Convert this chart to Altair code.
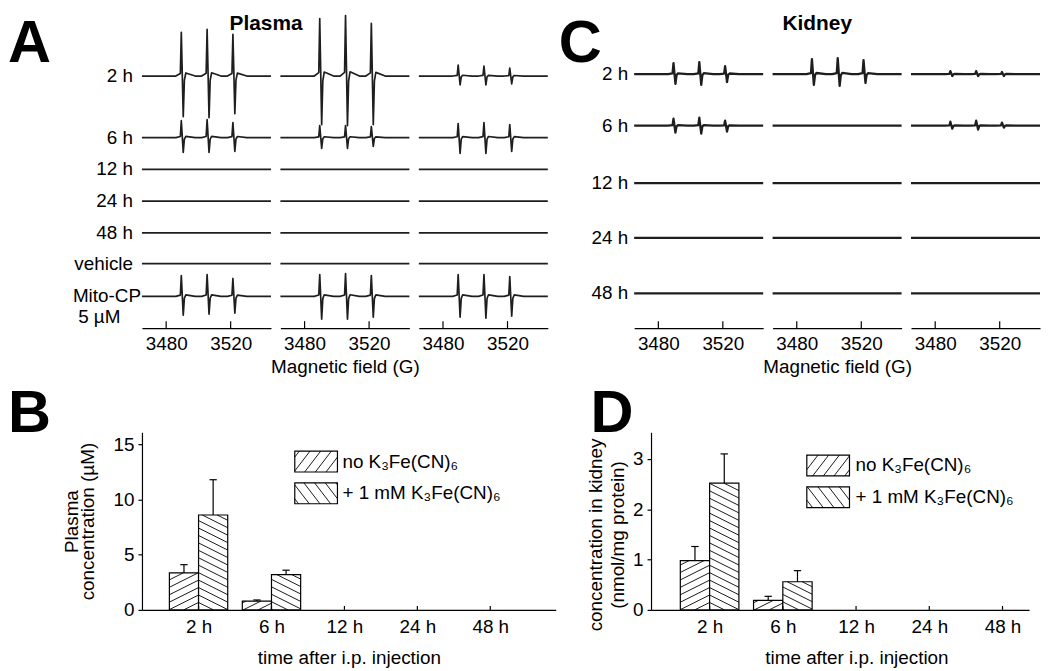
import math
import altair as alt
import pandas as pd

# ---------------- data ----------------
FIELD_TICKS = [3480, 3520]
FIELD_RANGE = [3465, 3545]
PEAK_FIELDS = [3490, 3506, 3522]
# derivative line shape of one EPR line (field offset in G, relative up / down part)
LINE_DX = [-4.0, -1.2, -0.6, 0.6, 1.3, 2.2, 8.0]
LINE_UP_SHAPE = [0.0, 0.06, 1.0, 0.0, 0.0, 0.07, 0.0]
LINE_DOWN_SHAPE = [0.0, 0.0, 0.0, 1.0, 0.1, 0.0, 0.0]

PLASMA_ROWS = ["2 h", "6 h", "12 h", "24 h", "48 h", "vehicle", "Mito-CP"]
Z3 = [0, 0, 0]
PLASMA_UP = [
    [[44, 47, 42], [17, 18, 15], Z3, Z3, Z3, Z3, [21, 22, 18]],
    [[58, 61, 53], [12, 12, 11], Z3, Z3, Z3, Z3, [22, 23, 21]],
    [[11, 10, 8], [14, 15, 13], Z3, Z3, Z3, Z3, [22, 22, 20]],
]
PLASMA_DOWN = [
    [[41, 42, 38], [15, 15, 14], Z3, Z3, Z3, Z3, [19, 18, 17]],
    [[49, 50, 49], [11, 11, 9], Z3, Z3, Z3, Z3, [23, 23, 21]],
    [[9, 9, 8], [16, 16, 14], Z3, Z3, Z3, Z3, [21, 22, 20]],
]
KIDNEY_ROWS = ["2 h", "6 h", "12 h", "24 h", "48 h"]
KIDNEY_UP = [
    [[11, 12, 8], [7, 8, 5], Z3, Z3, Z3],
    [[15, 16, 14], Z3, Z3, Z3, Z3],
    [[3, 3, 2], [4, 5, 3], Z3, Z3, Z3],
]
KIDNEY_DOWN = [
    [[10, 11, 8], [7, 8, 6], Z3, Z3, Z3],
    [[11, 12, 9], Z3, Z3, Z3, Z3],
    [[2, 2, 2], [3, 4, 2], Z3, Z3, Z3],
]

TIMES = ["2 h", "6 h", "12 h", "24 h", "48 h"]
PLASMA_NO = [3.35, 0.8, 0, 0, 0]
PLASMA_NO_ERR = [0.75, 0.1, 0, 0, 0]
PLASMA_K = [8.6, 3.2, 0, 0, 0]
PLASMA_K_ERR = [3.2, 0.4, 0, 0, 0]
KIDNEY_NO = [0.98, 0.19, 0, 0, 0]
KIDNEY_NO_ERR = [0.28, 0.08, 0, 0, 0]
KIDNEY_K = [2.52, 0.56, 0, 0, 0]
KIDNEY_K_ERR = [0.58, 0.22, 0, 0, 0]
LEGEND_LABELS = ["no K\u2083Fe(CN)\u2086", "+ 1 mM K\u2083Fe(CN)\u2086"]

# ---------------- layout / style ----------------
FONT = "Liberation Sans"
FS = 19
LETTER = 60
SPEC_W = 130
SPEC_GAP = 9.5
TOP_H = 320
PLASMA_ROW_Y = [254, 192, 160, 128, 96, 65, 32]
KIDNEY_ROW_Y = [256, 204, 146, 91, 35]
BOT_H = 179
BAR_W = 0.4
CAP = 0.05


def text_layer(txt, x, y, size=FS, weight="normal", align="left", baseline="middle"):
    return alt.Chart(pd.DataFrame({"t": [txt]})).mark_text(
        fontSize=size, fontWeight=weight, align=align, baseline=baseline, color="black"
    ).encode(text="t:N", x=alt.value(x), y=alt.value(y))


def spectrum_panel(ups, downs, rows, row_y, axis_title=None, extra=(), stroke=1.7):
    recs = []
    for r, name in enumerate(rows):
        pts = [(FIELD_RANGE[0], 0.0)]
        for p, c in enumerate(PEAK_FIELDS):
            for dx, fu, fd in zip(LINE_DX, LINE_UP_SHAPE, LINE_DOWN_SHAPE):
                pts.append((c + dx, ups[r][p] * fu - downs[r][p] * fd))
        pts.append((FIELD_RANGE[1], 0.0))
        for i, (f, s) in enumerate(pts):
            recs.append({"row": name, "i": i, "field": f, "y": row_y[r] + s})
    df = pd.DataFrame(recs)
    xs = alt.Scale(domain=FIELD_RANGE, nice=False, zero=False)
    ys = alt.Scale(domain=[0, TOP_H], nice=False, zero=False)
    axis = alt.Axis(values=FIELD_TICKS, ticks=False, grid=False, format="d",
                    labelFontSize=FS, labelPadding=7, labelColor="black",
                    domainColor="black", domainWidth=1.2, title=axis_title,
                    titleFontSize=FS, titleFontWeight="normal", titleColor="black",
                    titlePadding=4)
    lines = alt.Chart(df).mark_line(color="#1e1e1e", strokeWidth=stroke, strokeJoin="round").encode(
        x=alt.X("field:Q", scale=xs, axis=axis),
        y=alt.Y("y:Q", scale=ys, axis=None),
        detail="row:N", order="i:Q")
    tdf = pd.DataFrame({"field": FIELD_TICKS, "y0": [0, 0], "y1": [7, 7]})
    ticks = alt.Chart(tdf).mark_rule(color="black", strokeWidth=1.2).encode(
        x=alt.X("field:Q", scale=xs),
        y=alt.Y("y0:Q", scale=ys, axis=None), y2="y1:Q")
    return alt.layer(lines, ticks, *extra).properties(width=SPEC_W, height=TOP_H)


def row_labels(rows, row_y, x, skip=()):
    df = pd.DataFrame({"label": [r for r in rows if r not in skip],
                       "y": [row_y[i] for i, r in enumerate(rows) if r not in skip]})
    ys = alt.Scale(domain=[0, TOP_H], nice=False, zero=False)
    return alt.Chart(df).mark_text(fontSize=FS, align="right", baseline="middle", color="black").encode(
        text="label:N", x=alt.value(x), y=alt.Y("y:Q", scale=ys, axis=None))


def hatch(x0, x1, y0, y1, kx, ky, slope, gap, direction):
    u0, u1, w0, w1 = x0 * kx, x1 * kx, y0 * ky, y1 * ky
    out = []
    if direction > 0:
        cmin, cmax = w0 - slope * u1, w1 - slope * u0
    else:
        cmin, cmax = w0 + slope * u0, w1 + slope * u1
    k = math.ceil(cmin / gap)
    while k * gap <= cmax:
        c = k * gap
        if direction > 0:
            ua, ub = max(u0, (w0 - c) / slope), min(u1, (w1 - c) / slope)
        else:
            ua, ub = max(u0, (c - w1) / slope), min(u1, (c - w0) / slope)
        if ub - ua > 0.3:
            wa = direction * slope * ua + c
            wb = direction * slope * ub + c
            out.append({"xa": ua / kx, "xb": ub / kx, "ya": wa / ky, "yb": wb / ky})
        k += 1
    return out


def bar_panel(no_v, no_e, k_v, k_e, width, xdom, ydom, yticks, ytitle, ytitle_lh, ytitle_pad,
              legend_box_x, legend_box_y, legend_text_x, letter, letter_x,
              xtitle_x=None, ytitle_y=None):
    kx = width / (xdom[1] - xdom[0])
    ky = BOT_H / (ydom[1] - ydom[0])
    xs = alt.Scale(domain=xdom, nice=False, zero=False)
    ys = alt.Scale(domain=ydom, nice=False, zero=False)
    bars, hat, errs = [], [], []
    for i in range(len(TIMES)):
        for vals, ev, lo, hi, d in ((no_v, no_e, -BAR_W, 0.0, 1), (k_v, k_e, 0.0, BAR_W, -1)):
            v = vals[i]
            if v <= 0:
                continue
            x0, x1 = i + lo, i + hi
            bars.append({"x0": x0, "x1": x1, "y0": 0.0, "y1": v})
            xc = (x0 + x1) / 2
            errs.append({"xc": xc, "xa": xc - CAP, "xb": xc + CAP, "v": v, "top": v + ev[i]})
            hat += hatch(x0, x1, 0.0, v, kx, ky, 0.5, 7.5, d)
    # legend (pixel layout converted to data units through the panel scales)
    px2x = lambda p: xdom[0] + p / kx
    py2y = lambda p: ydom[1] - p / ky
    leg_box, leg_hat, leg_txt = [], [], []
    for j, (lab, d) in enumerate(zip(LEGEND_LABELS, (1, -1))):
        bx0, bx1 = px2x(legend_box_x[0]), px2x(legend_box_x[1])
        by1, by0 = py2y(legend_box_y[j][0]), py2y(legend_box_y[j][1])
        leg_box.append({"x0": bx0, "x1": bx1, "y0": by0, "y1": by1})
        leg_hat += hatch(bx0, bx1, by0, by1, kx, ky, 1.3, 14.0, d)
        leg_txt.append({"x": px2x(legend_text_x), "y": (by0 + by1) / 2, "label": lab})

    xaxis_kw = dict(values=list(range(len(TIMES))),
                    labelExpr="[" + ",".join("'%s'" % t for t in TIMES) + "][datum.value]",
                    ticks=False, grid=False, domainColor="black", domainWidth=1.2,
                    labelFontSize=FS, labelColor="black", labelPadding=8,
                    title="time after i.p. injection", titleFontSize=FS,
                    titleFontWeight="normal", titleColor="black", titlePadding=12)
    if xtitle_x is not None:
        xaxis_kw["titleX"] = xtitle_x
    yaxis_kw = dict(values=yticks, format="d", grid=False, tickSize=4, tickColor="black",
                    tickWidth=1.2, domainColor="black", domainWidth=1.2, labelFontSize=FS,
                    labelColor="black", labelPadding=4, title=ytitle, titleFontSize=FS,
                    titleFontWeight="normal", titleColor="black", titleLineHeight=ytitle_lh,
                    titlePadding=ytitle_pad)
    if ytitle_y is not None:
        yaxis_kw["titleY"] = ytitle_y

    X = lambda f: alt.X(f, scale=xs)
    Y = lambda f: alt.Y(f, scale=ys)

    rects = alt.Chart(pd.DataFrame(bars)).mark_rect(fill="white", stroke="black", strokeWidth=1.2).encode(
        x=alt.X("x0:Q", scale=xs, axis=alt.Axis(**xaxis_kw)), x2="x1:Q",
        y=alt.Y("y0:Q", scale=ys, axis=alt.Axis(**yaxis_kw)), y2="y1:Q")
    hatch_l = alt.Chart(pd.DataFrame(hat)).mark_rule(color="black", strokeWidth=0.9).encode(
        x=X("xa:Q"), x2="xb:Q", y=Y("ya:Q"), y2="yb:Q")
    edf = pd.DataFrame(errs)
    stems = alt.Chart(edf).mark_rule(color="black", strokeWidth=1.2).encode(
        x=X("xc:Q"), y=Y("v:Q"), y2="top:Q")
    caps = alt.Chart(edf).mark_rule(color="black", strokeWidth=1.2).encode(
        x=X("xa:Q"), x2="xb:Q", y=Y("top:Q"))
    tdf = pd.DataFrame({"i": list(range(len(TIMES))), "a": [0.0] * len(TIMES),
                        "b": [4.0 / ky] * len(TIMES)})
    xticks = alt.Chart(tdf).mark_rule(color="black", strokeWidth=1.2).encode(
        x=X("i:Q"), y=Y("a:Q"), y2="b:Q")
    lbox = alt.Chart(pd.DataFrame(leg_box)).mark_rect(fill="white", stroke="black", strokeWidth=1.2).encode(
        x=X("x0:Q"), x2="x1:Q", y=Y("y0:Q"), y2="y1:Q")
    lhat = alt.Chart(pd.DataFrame(leg_hat)).mark_rule(color="black", strokeWidth=0.9).encode(
        x=X("xa:Q"), x2="xb:Q", y=Y("ya:Q"), y2="yb:Q")
    ltxt = alt.Chart(pd.DataFrame(leg_txt)).mark_text(fontSize=FS, align="left", baseline="middle",
                                                      color="black").encode(
        x=X("x:Q"), y=Y("y:Q"), text="label:N")
    let = text_layer(letter, letter_x, 0, size=LETTER, weight="bold", baseline="alphabetic")
    return alt.layer(rects, hatch_l, stems, caps, xticks, lbox, lhat, ltxt, let).properties(
        width=width, height=BOT_H)


# ---------------- panels ----------------
A1 = spectrum_panel(PLASMA_UP[0], PLASMA_DOWN[0], PLASMA_ROWS, PLASMA_ROW_Y, extra=(
    row_labels(PLASMA_ROWS, PLASMA_ROW_Y, -9, skip=("Mito-CP",)),
    text_layer("Mito-CP", -1, TOP_H - PLASMA_ROW_Y[-1], align="right"),
    text_layer("5 \u00b5M", -43, TOP_H - 11, align="center"),
    text_layer("A", -135, 52, size=LETTER, weight="bold", baseline="alphabetic"),
))
A2 = spectrum_panel(PLASMA_UP[1], PLASMA_DOWN[1], PLASMA_ROWS, PLASMA_ROW_Y,
                    axis_title="Magnetic field (G)",
                    extra=(text_layer("Plasma", -14.5, 14, size=21, weight="bold", align="center"),))
A3 = spectrum_panel(PLASMA_UP[2], PLASMA_DOWN[2], PLASMA_ROWS, PLASMA_ROW_Y)

C1 = spectrum_panel(KIDNEY_UP[0], KIDNEY_DOWN[0], KIDNEY_ROWS, KIDNEY_ROW_Y, stroke=2.3, extra=(
    row_labels(KIDNEY_ROWS, KIDNEY_ROW_Y, -6),
    text_layer("C", -76, 52, size=LETTER, weight="bold", baseline="alphabetic"),
))
C2 = spectrum_panel(KIDNEY_UP[1], KIDNEY_DOWN[1], KIDNEY_ROWS, KIDNEY_ROW_Y, stroke=2.3,
                    axis_title="Magnetic field (G)",
                    extra=(text_layer("Kidney", 45, 14, size=21, weight="bold", align="center"),))
C3 = spectrum_panel(KIDNEY_UP[2], KIDNEY_DOWN[2], KIDNEY_ROWS, KIDNEY_ROW_Y, stroke=2.3)

spacer = alt.Chart(pd.DataFrame({"a": [0]})).mark_point(opacity=0).encode(
    x=alt.value(34), y=alt.value(160)).properties(width=68, height=TOP_H)

B = bar_panel(PLASMA_NO, PLASMA_NO_ERR, PLASMA_K, PLASMA_K_ERR, 417, [-0.776, 4.898], [0, 16.1],
              [0, 5, 10, 15], ["Plasma", "concentration (\u00b5M)"], 16, 16,
              (154, 197), [(19, 40), (51, 72)], 202, "B", -135)
D = bar_panel(KIDNEY_NO, KIDNEY_NO_ERR, KIDNEY_K, KIDNEY_K_ERR, 381, [-0.8, 4.363], [0, 3.53],
              [0, 1, 2, 3], ["concentration in kidney", "(nmol/mg protein)"], 22, 5,
              (157, 200), [(23, 44), (55, 76)], 206, "D", -61, xtitle_x=207, ytitle_y=103)

top = alt.hconcat(A1, A2, A3, spacer, C1, C2, C3, spacing=SPEC_GAP, bounds="flush")
bottom = alt.hconcat(B, D, spacing=96, bounds="flush")

chart = alt.vconcat(top, bottom, spacing=8).properties(
    padding=0, background="white"
).configure(font=FONT).configure_view(stroke=None)

chart.save("out.html", embed_options={"renderer": "svg", "actions": False})
